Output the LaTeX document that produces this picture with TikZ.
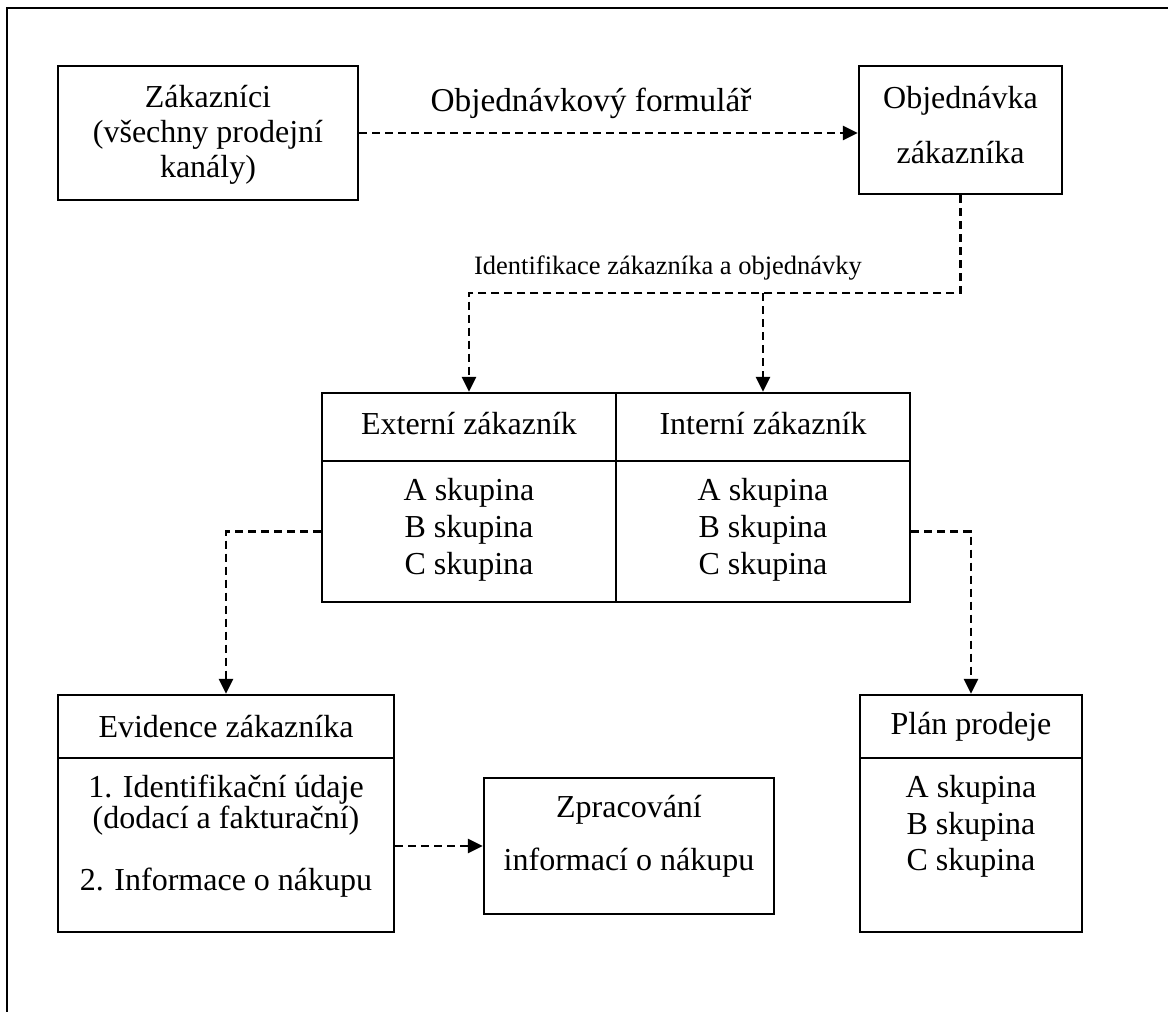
\documentclass[tikz,border=0pt]{standalone}
\usepackage{fontspec}
\setmainfont{Liberation Serif}
\usetikzlibrary{arrows.meta}

\begin{document}
\begin{tikzpicture}[
  x=1pt, y=-1pt,
  box/.style={draw, line width=2.4pt, rectangle, inner sep=0pt},
  txt/.style={inner sep=0pt, align=center, font=\fontsize{32}{37}\selectfont},
  small/.style={inner sep=0pt, font=\fontsize{26.5}{30}\selectfont},
  flow/.style={line width=2.6pt, dash pattern=on 8pt off 5pt,
               -{Triangle[length=15pt,width=14pt]}},
  frame/.style={line width=2.6pt}
]
\useasboundingbox (0,0) rectangle (1168,1012);

% page frame (open at the right and at the bottom)
\draw[frame] (7,1012) -- (7,8) -- (1168,8);

% customers and order
\node[box, minimum width=300pt, minimum height=134pt] (zak) at (208,133) {};
\node[txt, font=\fontsize{32}{35}\selectfont] (zakt) at (208,135)
  {Zákazníci\\(všechny prodejní\\kanály)};

\node[box, minimum width=203pt, minimum height=128pt] (obj) at (960.5,130) {};
\node[txt, font=\fontsize{32}{55}\selectfont] (objt) at (960.5,125.5)
  {Objednávka\\zákazníka};

% external / internal customer table
\node[box, minimum width=294pt, minimum height=68pt] (exth) at (469,427) {};
\node[box, minimum width=294pt, minimum height=68pt] (inth) at (763,427) {};
\node[box, minimum width=294pt, minimum height=141pt] (extb) at (469,531.5) {};
\node[box, minimum width=294pt, minimum height=141pt] (intb) at (763,531.5) {};
\node[txt] (extht) at (469,424) {Externí zákazník};
\node[txt] (intht) at (763,424) {Interní zákazník};
\node[txt] (extbt) at (469,530) {A skupina\\B skupina\\C skupina};
\node[txt] (intbt) at (763,530) {A skupina\\B skupina\\C skupina};

% customer records
\node[box, minimum width=336pt, minimum height=63pt] (evh) at (226,726.5) {};
\node[box, minimum width=336pt, minimum height=174pt] (evb) at (226,845) {};
\node[txt] (evht) at (226,727) {Evidence zákazníka};
\node[txt, font=\fontsize{32}{31}\selectfont] (evbt) at (226,836)
  {1. Identifikační údaje\\(dodací a fakturační)\\[31pt]2. Informace o nákupu};

% purchase processing
\node[box, minimum width=290pt, minimum height=136pt] (zp) at (629,846) {};
\node[txt, font=\fontsize{32}{53}\selectfont] (zpt) at (629,836.5)
  {Zpracování\\informací o nákupu};

% sales plan
\node[box, minimum width=222pt, minimum height=63pt] (planh) at (971,726.5) {};
\node[box, minimum width=222pt, minimum height=174pt] (planb) at (971,845) {};
\node[txt] (planht) at (971,727) {Plán prodeje};
\node[txt, font=\fontsize{32}{36.5}\selectfont] (planbt) at (971,826.5)
  {A skupina\\B skupina\\C skupina};

% connector labels
\node[txt, font=\fontsize{33.3}{37}\selectfont] (lform) at (591,103) {Objednávkový formulář};
\node[small] (lident) at (668,268) {Identifikace zákazníka a objednávky};

% connectors
\coordinate (bend) at (960.5,293);
\draw[flow] (zak.east) -- (zak.east -| obj.west);
\draw[flow] (obj.south) |- (exth.north |- bend) -- (exth.north);
\draw[flow] (inth.north |- bend) -- (inth.north);
\draw[flow] (extb.west) -| (evh.north);
\draw[flow] (intb.east) -| (planh.north);
\draw[flow] (zp.west -| evb.east) -- (zp.west);
\end{tikzpicture}
\end{document}
